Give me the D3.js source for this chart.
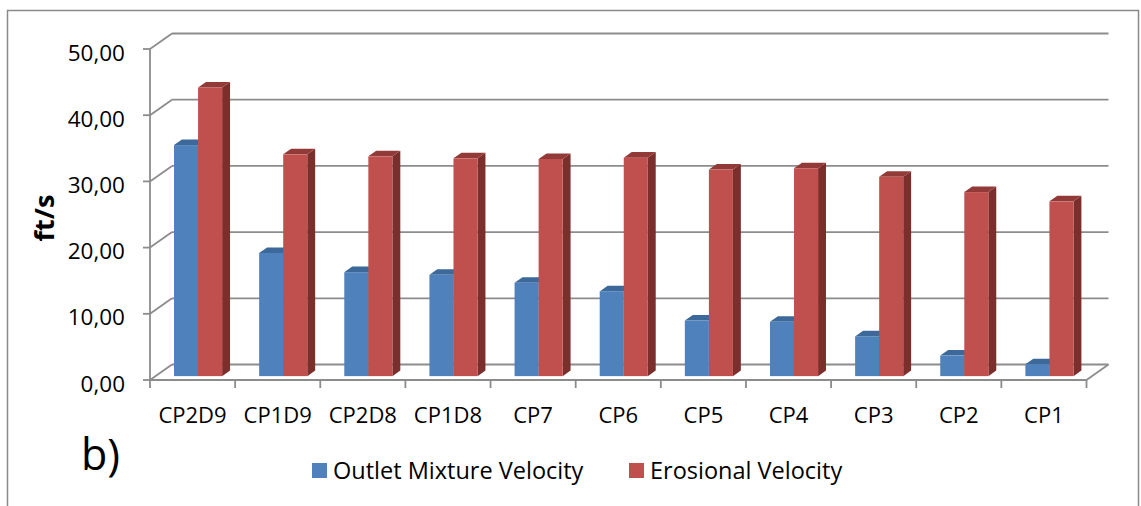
<!DOCTYPE html>
<html>
<head>
<meta charset="utf-8">
<script src="https://cdn.jsdelivr.net/npm/d3@7"></script>
<style>
  html, body { margin: 0; padding: 0; background: #fff; }
  svg { display: block; }
  text { font-family: "Open Sans", "Noto Sans", sans-serif; fill: #000; }
</style>
</head>
<body>
<svg id="chart" width="1141" height="506"></svg>
<script>
// Measurement points along the line
const categories = ["CP2D9", "CP1D9", "CP2D8", "CP1D8", "CP7", "CP6", "CP5", "CP4", "CP3", "CP2", "CP1"];

// Velocities, ft/s
const outletMixtureVelocity = [34.9, 18.6, 15.7, 15.3, 14.1, 12.8, 8.4, 8.2, 6.0, 3.1, 1.8];
const erosionalVelocity     = [43.6, 33.5, 33.2, 32.9, 32.8, 33.0, 31.2, 31.4, 30.1, 27.8, 26.4];

const seriesNames = ["Outlet Mixture Velocity", "Erosional Velocity"];
const yTicks = [0, 10, 20, 30, 40, 50];
const tickLabels = ["0,00", "10,00", "20,00", "30,00", "40,00", "50,00"];

const seriesStyle = [
  { front: "#4F81BD", top: "#3C6999", side: "#345C8A" },
  { front: "#C0504D", top: "#923A37", side: "#7B2F2D" }
];

const svg = d3.select("#chart");

// Oblique 3-D projection: depth 0 is the front plane, depth 1 the back wall
const DX = 22, DY = 15.5;
const y = d3.scaleLinear().domain([0, 50]).range([380, 49]);
const x0 = d3.scaleBand().domain(categories).range([150, 1086.5])
  .paddingInner(0.435).paddingOuter(0.2175);
const x1 = d3.scaleBand().domain(d3.range(seriesNames.length)).range([0, x0.bandwidth()]);
const step = x0.step();
const xLeft = 150, xRight = 150 + step * categories.length;
const P = (xf, v, d) => [xf + d * DX, y(v) - d * DY];

const barFront = 0.25, barBack = 0.61;

// Chart frame
svg.append("rect")
  .attr("x", 7.5).attr("y", 10.5).attr("width", 1131).attr("height", 530)
  .attr("fill", "none").attr("stroke", "#8a8a8a").attr("stroke-width", 1.5);

const grid = svg.append("g").attr("stroke", "#8c8c8c").attr("stroke-width", 1.8).attr("fill", "none");

// Back wall gridlines and side-wall connectors
yTicks.forEach(t => {
  const a = P(xLeft, t, 1), b = P(xRight, t, 1), f = P(xLeft, t, 0);
  grid.append("line").attr("x1", a[0]).attr("y1", a[1]).attr("x2", b[0]).attr("y2", b[1]);
  grid.append("line").attr("x1", f[0]).attr("y1", f[1]).attr("x2", a[0]).attr("y2", a[1]);
});
// Floor right edge
{
  const a = P(xRight, 0, 0), b = P(xRight, 0, 1);
  grid.append("line").attr("x1", a[0]).attr("y1", a[1]).attr("x2", b[0]).attr("y2", b[1]);
}

// Bars
const poly = pts => pts.map(p => p.join(",")).join(" ");
const bars = svg.append("g");
const seriesData = [outletMixtureVelocity, erosionalVelocity];
categories.forEach((c, i) => {
  seriesData.forEach((vals, s) => {
    const v = vals[i];
    const xl = x0(c) + x1(s), xr = xl + x1.bandwidth();
    const st = seriesStyle[s];
    // right side face
    bars.append("polygon").attr("fill", st.side).attr("points", poly([
      P(xr, v, barFront), P(xr, v, barBack), P(xr, 0, barBack), P(xr, 0, barFront)
    ]));
    // top face
    bars.append("polygon").attr("fill", st.top).attr("points", poly([
      P(xl, v, barFront), P(xr, v, barFront), P(xr, v, barBack), P(xl, v, barBack)
    ]));
    // front face
    const fl = P(xl, v, barFront), br = P(xr, 0, barFront);
    bars.append("rect").attr("fill", st.front)
      .attr("x", fl[0]).attr("y", fl[1]).attr("width", br[0] - fl[0]).attr("height", br[1] - fl[1]);
  });
});

// Front axes
const axis = svg.append("g").attr("stroke", "#8c8c8c").attr("stroke-width", 1.8).attr("fill", "none");
axis.append("line").attr("x1", xLeft).attr("y1", y(50)).attr("x2", xLeft).attr("y2", y(0));
axis.append("line").attr("x1", xLeft).attr("y1", y(0)).attr("x2", xRight).attr("y2", y(0));
yTicks.forEach(t => {
  axis.append("line").attr("x1", xLeft - 7).attr("y1", y(t)).attr("x2", xLeft).attr("y2", y(t));
});
d3.range(categories.length + 1).forEach(k => {
  const xx = xLeft + k * step;
  axis.append("line").attr("x1", xx).attr("y1", y(0)).attr("x2", xx).attr("y2", y(0) + 8);
});

// Tick labels
svg.append("g").selectAll("text").data(yTicks).join("text")
  .attr("x", 125).attr("y", d => y(d) + 3)
  .attr("text-anchor", "end").attr("dominant-baseline", "central")
  .attr("font-size", 22.5)
  .text((d, i) => tickLabels[i]);

svg.append("g").selectAll("text").data(categories).join("text")
  .attr("x", d => xLeft + (categories.indexOf(d) + 0.5) * step)
  .attr("y", 422.5)
  .attr("text-anchor", "middle")
  .attr("font-size", 22)
  .text(d => d);

// Axis title
svg.append("text")
  .attr("transform", "translate(54,218) rotate(-90)")
  .attr("text-anchor", "middle")
  .attr("font-size", 27).attr("font-weight", "bold")
  .text("ft/s");

// Panel label
svg.append("text").attr("x", 81).attr("y", 470).attr("font-size", 43).text("b)");

// Legend
const legendX = [312, 629];
const legend = svg.append("g");
seriesNames.forEach((name, s) => {
  legend.append("rect").attr("x", legendX[s]).attr("y", 463).attr("width", 15).attr("height", 15)
    .attr("fill", seriesStyle[s].front);
  legend.append("text").attr("x", legendX[s] + 21).attr("y", 479)
    .attr("font-size", 23.5).text(name);
});
</script>
</body>
</html>
